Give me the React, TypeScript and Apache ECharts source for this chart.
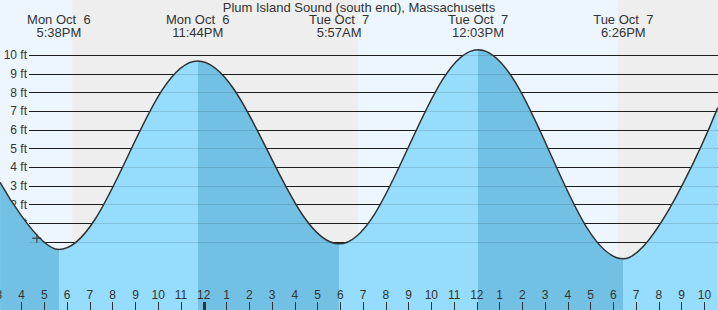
import React, { useEffect, useRef } from "react";
import * as echarts from "echarts";

// ---- data ----
const stationTitle = "Plum Island Sound (south end), Massachusetts";
const extremeTimes = ["2025-10-06 17:38", "2025-10-06 23:44", "2025-10-07 05:57", "2025-10-07 12:03", "2025-10-07 18:26"];
const extremeHeights = [-0.4, 9.7, -0.1, 10.3, -0.9];
const extremeTypes = ["L", "H", "L", "H", "L"];
const extremeDayLabels = ["Mon Oct  6", "Mon Oct  6", "Tue Oct  7", "Tue Oct  7", "Tue Oct  7"];
const extremeTimeLabels = ["5:38PM", "11:44PM", "5:57AM", "12:03PM", "6:26PM"];
const edgeTimes = ["2025-10-06 15:03", "2025-10-07 22:35"];
const edgeHeights = [3.2, 7.2];
const sunEvents = ["2025-10-06 18:13", "2025-10-07 06:47", "2025-10-07 18:11"];
const sunTypes = ["set", "rise", "set"];
const nowTime = ["2025-10-06 16:40"];
const nowHeight = [0.2];
const dayBoundary = "2025-10-07 00:00";
const axisStartHour = 15; // 3 PM Oct 6
const axisEndHour = 47; // 11 PM Oct 7
const yTickMin = 0;
const yTickMax = 10;

// ---- styles ----
const FONT = "Liberation Sans, Arial, sans-serif";
const TEXT = "#333";
const DAY = "#edf6fe";
const NIGHT = "#eeeeee";
const RISE = "#96dcfc";
const FALL = "#72c1e4";

function toHours(s: string): number {
  const [d, t] = s.split(" ");
  const day = Number(d.split("-")[2]);
  const [h, m] = t.split(":").map(Number);
  return (day - 6) * 24 + h + m / 60;
}

export default function App() {
  const ref = useRef<HTMLDivElement>(null);
  useEffect(() => {
    const chart = echarts.init(ref.current!, null, { renderer: "svg" });
    const ext = extremeTimes.map(toHours);
    const curve: number[][] = [
      [toHours(edgeTimes[0]), edgeHeights[0]],
      ...ext.map((x, i) => [x, extremeHeights[i]]),
      [toHours(edgeTimes[1]), edgeHeights[1]],
    ];
    const pieces: any[] = [];
    let prev: number | null = null;
    ext.forEach((x, i) => {
      const p: any = { lt: x, color: extremeTypes[i] === "L" ? FALL : RISE };
      if (prev !== null) p.gte = prev;
      pieces.push(p);
      prev = x;
    });
    pieces.push({ gte: prev, color: extremeTypes[extremeTypes.length - 1] === "L" ? RISE : FALL });

    const sun = sunEvents.map(toHours);
    const bounds = [axisStartHour, ...sun, axisEndHour];
    const areas: any[] = [];
    for (let i = 0; i < bounds.length - 1; i++) {
      const isNight = i > 0 ? sunTypes[i - 1] === "set" : sunTypes[0] === "rise";
      areas.push([{ xAxis: bounds[i], itemStyle: { color: isNight ? NIGHT : DAY } }, { xAxis: bounds[i + 1] }]);
    }

    // layout
    const pxPerHour = 22.76;
    const gridLeft = 21.67 - (16 - axisStartHour) * pxPerHour;
    const gridWidth = (axisEndHour - axisStartHour) * pxPerHour;
    const zeroY = 242;
    const pxPerFt = 18.667;
    const H = 310;
    const yMin = -(H - zeroY) / pxPerFt;
    const yMax = zeroY / pxPerFt;

    const hourFmt = (v: number) => {
      const h = Math.round(v) % 12;
      return String(h === 0 ? 12 : h);
    };

    chart.setOption({
      animation: false,
      textStyle: { fontFamily: FONT },
      title: {
        text: stationTitle,
        left: "center",
        top: 0.5,
        padding: 0,
        textStyle: { fontSize: 13, fontWeight: "normal", color: TEXT, fontFamily: FONT, lineHeight: 13 },
        z: 10,
      },
      grid: [
        { left: gridLeft, width: gridWidth, top: 0, bottom: 0, outerBoundsMode: "none", containLabel: false },
        { left: 29, right: 0, top: zeroY - yTickMax * pxPerFt, height: (yTickMax - yTickMin) * pxPerFt, outerBoundsMode: "none", containLabel: false },
      ],
      visualMap: { type: "piecewise", show: false, dimension: 0, seriesIndex: 0, pieces },
      xAxis: [
        {
          gridIndex: 0, type: "value", min: axisStartHour, max: axisEndHour, interval: 1, position: "bottom",
          axisLine: { show: false, onZero: false },
          axisTick: { show: true, inside: true, length: 8, lineStyle: { color: TEXT, width: 1 } },
          axisLabel: { inside: true, margin: 9, color: TEXT, fontSize: 12, lineHeight: 12, fontFamily: FONT, formatter: hourFmt, showMinLabel: true, showMaxLabel: false },
          splitLine: { show: false }, z: 5,
        },
        {
          gridIndex: 0, type: "value", min: axisStartHour, max: axisEndHour, position: "bottom",
          axisLine: { show: false, onZero: false },
          axisTick: { show: true, inside: true, length: 8, customValues: [toHours(dayBoundary)], lineStyle: { color: TEXT, width: 3 } },
          axisLabel: { show: false }, splitLine: { show: false }, z: 5,
        },
        {
          gridIndex: 0, type: "value", min: axisStartHour, max: axisEndHour, position: "top",
          axisLine: { show: false, onZero: false }, axisTick: { show: false },
          axisLabel: {
            inside: true, margin: 13, color: TEXT, fontSize: 13, lineHeight: 13, fontFamily: FONT,
            customValues: ext,
            formatter: (v: number) => {
              const i = ext.findIndex((x) => Math.abs(x - v) < 1e-6);
              return i < 0 ? "" : extremeDayLabels[i] + "\n" + extremeTimeLabels[i];
            },
          },
          splitLine: { show: false }, z: 5,
        },
        { gridIndex: 1, type: "value", min: 0, max: 1, show: false },
      ],
      yAxis: [
        { gridIndex: 0, type: "value", min: yMin, max: yMax, show: false },
        {
          gridIndex: 1, type: "value", min: yTickMin, max: yTickMax, interval: 1, position: "left",
          axisLine: { show: false, onZero: false }, axisTick: { show: false },
          axisLabel: { formatter: "{value} ft", margin: 2, color: TEXT, fontSize: 12, fontFamily: FONT },
          splitLine: { show: true, lineStyle: { color: "#222", width: 1 } }, z: 1.5,
        },
        {
          gridIndex: 1, type: "value", min: yTickMin, max: yTickMax, interval: 1, position: "left",
          axisLine: { show: false, onZero: false }, axisTick: { show: false }, axisLabel: { show: false },
          splitLine: { show: true, lineStyle: { color: "rgba(0,0,0,0.12)", width: 1 } }, z: 2.5,
        },
      ],
      series: [
        {
          type: "line", xAxisIndex: 0, yAxisIndex: 0, data: curve, smooth: 0.36, smoothMonotone: "x",
          symbol: "none", silent: true, lineStyle: { width: 0 }, areaStyle: { opacity: 1, origin: "start" }, z: 2,
          markArea: { silent: true, z: 1, data: areas },
        },
        {
          type: "line", xAxisIndex: 0, yAxisIndex: 0, data: curve, smooth: 0.36, smoothMonotone: "x",
          symbol: "none", silent: true, lineStyle: { color: TEXT, width: 1.5 }, z: 3,
        },
        {
          type: "scatter", xAxisIndex: 0, yAxisIndex: 0, data: nowTime.map((t, i) => [toHours(t), nowHeight[i]]),
          symbol: "path://M0,5L10,5M5,0L5,10", symbolSize: 9, silent: true,
          itemStyle: { color: "none", borderColor: TEXT, borderWidth: 1.3 }, z: 4,
        },
      ],
    });
    return () => chart.dispose();
  }, []);
  return <div ref={ref} style={{ position: "absolute", left: 0, top: 0, width: 718, height: 310 }} />;
}
